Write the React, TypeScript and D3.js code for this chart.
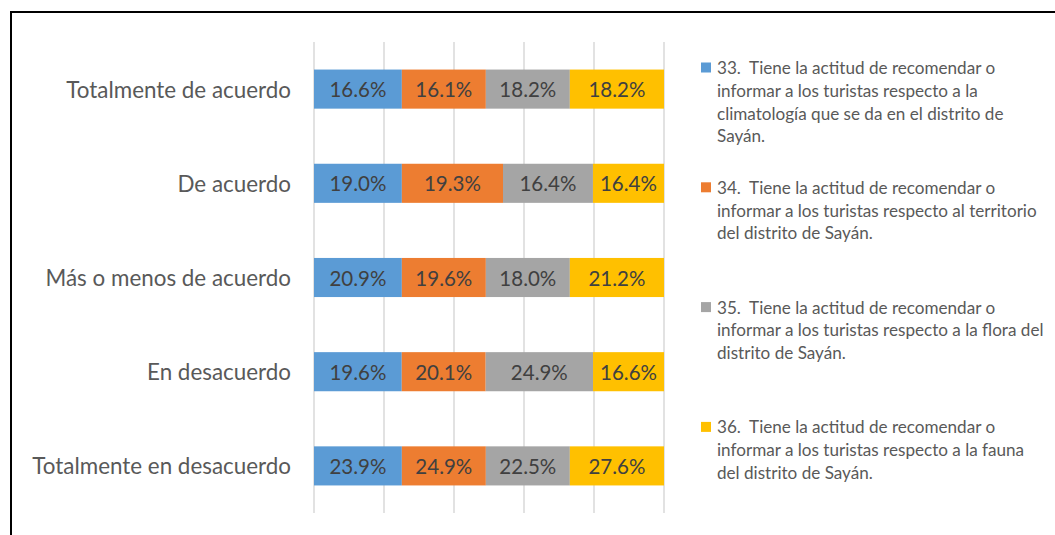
import * as d3 from "d3";

const WIDTH = 1055;
const HEIGHT = 535;
const MARGIN = { top: 42, right: 391, bottom: 22, left: 314 };

const FONT = "Lato, 'Open Sans', sans-serif";

// rows, top to bottom
const categories = [
  "Totalmente de acuerdo",
  "De acuerdo",
  "Más o menos de acuerdo",
  "En desacuerdo",
  "Totalmente en desacuerdo",
];

const seriesKeys = ["s33", "s34", "s35", "s36"];
const seriesColors = ["#5b9bd5", "#ed7d31", "#a5a5a5", "#ffc000"];

// share of each row taken by each segment
const share33 = [25.1, 25.1, 25.1, 25.1, 25.1];
const share34 = [24.0, 28.9, 24.0, 24.0, 24.0];
const share35 = [24.0, 25.7, 24.0, 30.7, 24.0];
const share36 = [26.9, 20.3, 26.9, 20.3, 26.9];

// printed data labels
const label33 = ["16.6%", "19.0%", "20.9%", "19.6%", "23.9%"];
const label34 = ["16.1%", "19.3%", "19.6%", "20.1%", "24.9%"];
const label35 = ["18.2%", "16.4%", "18.0%", "24.9%", "22.5%"];
const label36 = ["18.2%", "16.4%", "21.2%", "16.6%", "27.6%"];

const xTicks = [0, 20, 40, 60, 80, 100];

const legendLines = [
  [
    "33.  Tiene la actitud de recomendar o",
    "informar a los turistas respecto a la",
    "climatología que se da en el distrito de",
    "Sayán.",
  ],
  [
    "34.  Tiene la actitud de recomendar o",
    "informar a los turistas respecto al territorio",
    "del distrito de Sayán.",
  ],
  [
    "35.  Tiene la actitud de recomendar o",
    "informar a los turistas respecto a la flora del",
    "distrito de Sayán.",
  ],
  [
    "36.  Tiene la actitud de recomendar o",
    "informar a los turistas respecto a la fauna",
    "del distrito de Sayán.",
  ],
];

export default function App() {
  const boundsWidth = WIDTH - MARGIN.left - MARGIN.right;
  const boundsHeight = HEIGHT - MARGIN.top - MARGIN.bottom;

  const shares = [share33, share34, share35, share36];
  const labels = [label33, label34, label35, label36];

  const table = categories.map((c, i) => {
    const row: Record<string, any> = { category: c };
    seriesKeys.forEach((k, j) => (row[k] = shares[j][i]));
    return row;
  });

  const stacked = d3
    .stack<Record<string, any>>()
    .keys(seriesKeys)
    .offset(d3.stackOffsetExpand)(table);

  const xScale = d3.scaleLinear().domain([0, 1]).range([0, boundsWidth]);
  const gridScale = d3.scaleLinear().domain([0, 100]).range([0, boundsWidth]);
  const yScale = d3
    .scaleBand()
    .domain(categories)
    .range([0, boundsHeight])
    .paddingInner(0.585)
    .paddingOuter(0.2925);

  const grid = xTicks.map((t) => (
    <line
      key={t}
      x1={gridScale(t)}
      x2={gridScale(t)}
      y1={0}
      y2={boundsHeight}
      stroke="#d9d9d9"
      strokeWidth={1.5}
    />
  ));

  const bars = stacked.map((layer, j) =>
    layer.map((d, i) => {
      const cat = categories[i];
      const x0 = xScale(d[0]);
      const x1 = xScale(d[1]);
      const y = yScale(cat) ?? 0;
      return (
        <g key={`${j}-${i}`}>
          <rect
            x={x0}
            y={y}
            width={x1 - x0}
            height={yScale.bandwidth()}
            fill={seriesColors[j]}
          />
          <text
            x={(x0 + x1) / 2}
            y={y + yScale.bandwidth() / 2}
            textAnchor="middle"
            dominantBaseline="central"
            fontSize={20.5}
            fill="#404040"
          >
            {labels[j][i]}
          </text>
        </g>
      );
    })
  );

  const yLabels = categories.map((c) => (
    <text
      key={c}
      x={-23}
      y={(yScale(c) ?? 0) + yScale.bandwidth() / 2}
      textAnchor="end"
      dominantBaseline="central"
      fontSize={22.4}
      fill="#595959"
    >
      {c}
    </text>
  ));

  const legend = legendLines.map((lines, i) => {
    const top = 67.5 + i * 119.8;
    return (
      <g key={i}>
        <rect x={701} y={top - 5} width={10} height={10} fill={seriesColors[i]} />
        {lines.map((l, k) => (
          <text
            key={k}
            x={717}
            y={top + k * 22.8}
            dominantBaseline="central"
            fontSize={17.1}
            fill="#595959"
            style={{ whiteSpace: "pre" }}
          >
            {l}
          </text>
        ))}
      </g>
    );
  });

  return (
    <svg
      width={WIDTH}
      height={HEIGHT}
      style={{ position: "absolute", left: 0, top: 0 }}
      fontFamily={FONT}
    >
      <rect x={0} y={0} width={WIDTH} height={HEIGHT} fill="#fff" />
      <rect
        x={11}
        y={12}
        width={WIDTH + 20}
        height={HEIGHT + 20}
        fill="none"
        stroke="#000"
        strokeWidth={2}
      />
      <g transform={`translate(${MARGIN.left},${MARGIN.top})`}>
        {grid}
        {bars}
        {yLabels}
      </g>
      {legend}
    </svg>
  );
}
